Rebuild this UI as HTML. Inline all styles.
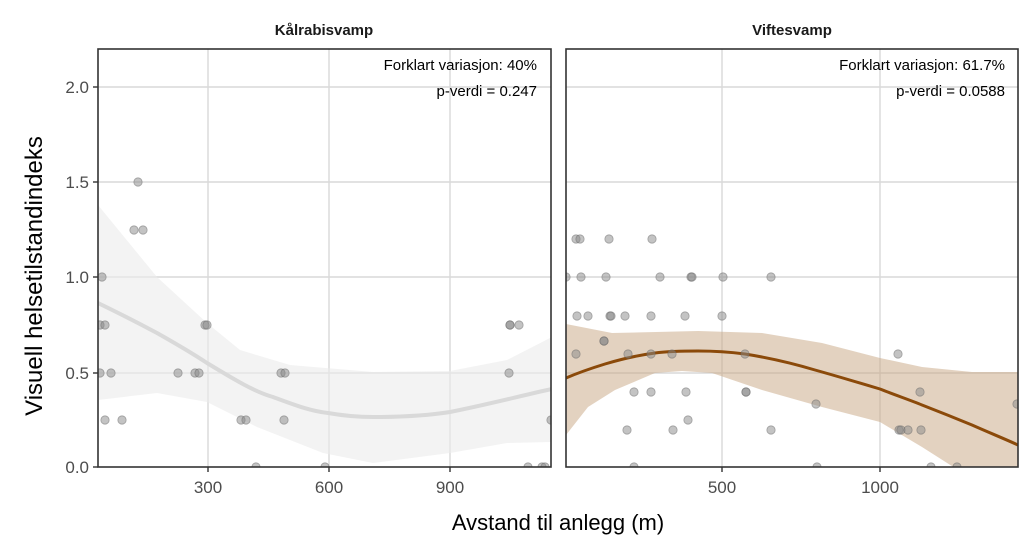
<!DOCTYPE html>
<html><head><meta charset="utf-8"><style>body{margin:0;background:#fff}svg{display:block}text{font-family:"Liberation Sans",Arial,sans-serif}</style></head><body>
<svg width="1027" height="551" viewBox="0 0 1027 551" xmlns="http://www.w3.org/2000/svg">
<rect width="1027" height="551" fill="#fff"/>
<defs>
<clipPath id="cl"><rect x="98" y="49" width="453" height="418"/></clipPath>
<clipPath id="cr"><rect x="566" y="49" width="452" height="418"/></clipPath>
</defs>
<!-- left panel -->
<g clip-path="url(#cl)">
<g stroke="#d9d9d9" stroke-width="1.4">
<line x1="98" x2="551" y1="87" y2="87"/><line x1="98" x2="551" y1="182" y2="182"/><line x1="98" x2="551" y1="277" y2="277"/><line x1="98" x2="551" y1="373" y2="373"/>
<line x1="208" x2="208" y1="49" y2="467"/><line x1="329" x2="329" y1="49" y2="467"/><line x1="450" x2="450" y1="49" y2="467"/>
</g>
<path d="M98,205 L157,277 L207,323 L240,350 L290,365 L373,372 L450,371 L507,360 L552,337 L552,442 L507,443 L450,453 L373,463 L323,453 L257,427 L207,402 L157,393 L98,400 Z" fill="#ebebeb" fill-opacity="0.6"/>
<path d="M98,303 C125,316 140,324 157,333 C180,346 195,355 207,363 C235,380 255,392 273,397 C295,405 310,411 328,413 C345,416 360,417 373,417 C400,417 425,416 450,412 C490,404 520,396 552,389" fill="none" stroke="#d9d9d9" stroke-width="4"/>
<g fill="#888" fill-opacity="0.5" stroke="#666" stroke-opacity="0.5" stroke-width="0.8">
<circle cx="138" cy="182" r="4.2"/><circle cx="134" cy="230" r="4.2"/><circle cx="143" cy="230" r="4.2"/><circle cx="102" cy="277" r="4.2"/>
<circle cx="100" cy="325" r="4.2"/><circle cx="105" cy="325" r="4.2"/><circle cx="205" cy="325" r="4.2"/><circle cx="207" cy="325" r="4.2"/><circle cx="510" cy="325" r="4.2"/><circle cx="510" cy="325" r="4.2"/><circle cx="519" cy="325" r="4.2"/>
<circle cx="100" cy="373" r="4.2"/><circle cx="111" cy="373" r="4.2"/><circle cx="178" cy="373" r="4.2"/><circle cx="195" cy="373" r="4.2"/><circle cx="199" cy="373" r="4.2"/><circle cx="281" cy="373" r="4.2"/><circle cx="285" cy="373" r="4.2"/><circle cx="509" cy="373" r="4.2"/>
<circle cx="105" cy="420" r="4.2"/><circle cx="122" cy="420" r="4.2"/><circle cx="241" cy="420" r="4.2"/><circle cx="246" cy="420" r="4.2"/><circle cx="284" cy="420" r="4.2"/><circle cx="551" cy="420" r="4.2"/>
<circle cx="256" cy="467" r="4.2"/><circle cx="325" cy="467" r="4.2"/><circle cx="528" cy="467" r="4.2"/><circle cx="542" cy="467" r="4.2"/><circle cx="545" cy="467" r="4.2"/>
</g>
</g>
<rect x="98" y="49" width="453" height="418" fill="none" stroke="#333" stroke-width="1.6"/>
<!-- right panel -->
<g clip-path="url(#cr)">
<g stroke="#d9d9d9" stroke-width="1.4">
<line x1="566" x2="1018" y1="87" y2="87"/><line x1="566" x2="1018" y1="182" y2="182"/><line x1="566" x2="1018" y1="277" y2="277"/><line x1="566" x2="1018" y1="373" y2="373"/>
<line x1="722" x2="722" y1="49" y2="467"/><line x1="880" x2="880" y1="49" y2="467"/>
</g>
<path d="M566,324 L612,333 L698,331 L762,333 L822,343 L880,358 L922,367 L972,372 L1018,372 L1018,480 L955,468 L922,447 L880,422 L822,407 L762,390 L712,373 L682,371 L655,373 L615,390 L588,407 L566,435 Z" fill="#c7a582" fill-opacity="0.5"/>
<path d="M566,378 C580,372 592,368 605,364 C625,358 640,355 655,353 C670,351 685,351 698,351 C715,351 730,352 745,354 C770,358 795,364 815,370 C840,377 860,383 880,389 C895,395 910,400 922,405 C940,412 955,418 972,425 C990,433 1005,439 1018,445" fill="none" stroke="#8b4a0a" stroke-width="3"/>
<g fill="#888" fill-opacity="0.5" stroke="#666" stroke-opacity="0.5" stroke-width="0.8">
<circle cx="576" cy="239" r="4.2"/><circle cx="580" cy="239" r="4.2"/><circle cx="609" cy="239" r="4.2"/><circle cx="652" cy="239" r="4.2"/>
<circle cx="566" cy="277" r="4.2"/><circle cx="581" cy="277" r="4.2"/><circle cx="606" cy="277" r="4.2"/><circle cx="660" cy="277" r="4.2"/><circle cx="691" cy="277" r="4.2"/><circle cx="692" cy="277" r="4.2"/><circle cx="723" cy="277" r="4.2"/><circle cx="771" cy="277" r="4.2"/>
<circle cx="577" cy="316" r="4.2"/><circle cx="588" cy="316" r="4.2"/><circle cx="610" cy="316" r="4.2"/><circle cx="611" cy="316" r="4.2"/><circle cx="625" cy="316" r="4.2"/><circle cx="651" cy="316" r="4.2"/><circle cx="685" cy="316" r="4.2"/><circle cx="722" cy="316" r="4.2"/>
<circle cx="604" cy="341" r="4.2"/><circle cx="604" cy="341" r="4.2"/>
<circle cx="576" cy="354" r="4.2"/><circle cx="628" cy="354" r="4.2"/><circle cx="651" cy="354" r="4.2"/><circle cx="672" cy="354" r="4.2"/><circle cx="745" cy="354" r="4.2"/><circle cx="898" cy="354" r="4.2"/>
<circle cx="634" cy="392" r="4.2"/><circle cx="651" cy="392" r="4.2"/><circle cx="686" cy="392" r="4.2"/><circle cx="746" cy="392" r="4.2"/><circle cx="746" cy="392" r="4.2"/><circle cx="920" cy="392" r="4.2"/>
<circle cx="816" cy="404" r="4.2"/><circle cx="1017" cy="404" r="4.2"/><circle cx="688" cy="420" r="4.2"/>
<circle cx="627" cy="430" r="4.2"/><circle cx="673" cy="430" r="4.2"/><circle cx="771" cy="430" r="4.2"/><circle cx="899" cy="430" r="4.2"/><circle cx="901" cy="430" r="4.2"/><circle cx="908" cy="430" r="4.2"/><circle cx="921" cy="430" r="4.2"/>
<circle cx="634" cy="467" r="4.2"/><circle cx="817" cy="467" r="4.2"/><circle cx="931" cy="467" r="4.2"/><circle cx="957" cy="467" r="4.2"/>
</g>
</g>
<rect x="566" y="49" width="452" height="418" fill="none" stroke="#333" stroke-width="1.6"/>
<!-- strips -->
<text x="324" y="35" text-anchor="middle" font-size="15" font-weight="bold" fill="#1a1a1a">Kålrabisvamp</text>
<text x="792" y="35" text-anchor="middle" font-size="15" font-weight="bold" fill="#1a1a1a">Viftesvamp</text>
<!-- annotations -->
<g font-size="15" fill="#000" text-anchor="end">
<text x="537" y="70">Forklart variasjon: 40%</text>
<text x="537" y="96">p-verdi = 0.247</text>
<text x="1005" y="70">Forklart variasjon: 61.7%</text>
<text x="1005" y="96">p-verdi = 0.0588</text>
</g>
<!-- y ticks -->
<g stroke="#333" stroke-width="1.4">
<line x1="93" x2="98" y1="87" y2="87"/><line x1="93" x2="98" y1="182" y2="182"/><line x1="93" x2="98" y1="277" y2="277"/><line x1="93" x2="98" y1="373" y2="373"/><line x1="93" x2="98" y1="467" y2="467"/>
<line x1="208" x2="208" y1="467" y2="472"/><line x1="329" x2="329" y1="467" y2="472"/><line x1="450" x2="450" y1="467" y2="472"/>
<line x1="722" x2="722" y1="467" y2="472"/><line x1="880" x2="880" y1="467" y2="472"/>
</g>
<g font-size="17" fill="#4d4d4d" text-anchor="end">
<text x="89" y="93">2.0</text><text x="89" y="188">1.5</text><text x="89" y="283">1.0</text><text x="89" y="379">0.5</text><text x="89" y="473">0.0</text>
</g>
<g font-size="17" fill="#4d4d4d" text-anchor="middle">
<text x="208" y="493">300</text><text x="329" y="493">600</text><text x="450" y="493">900</text>
<text x="722" y="493">500</text><text x="880" y="493">1000</text>
</g>
<text x="558" y="530" text-anchor="middle" font-size="22" fill="#000">Avstand til anlegg (m)</text>
<text transform="translate(42,276) rotate(-90)" text-anchor="middle" font-size="24" fill="#000">Visuell helsetilstandindeks</text>
</svg>
</body></html>
